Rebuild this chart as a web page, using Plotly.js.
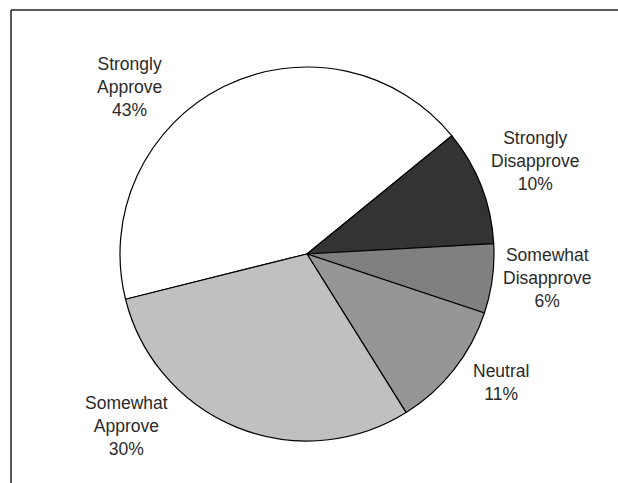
<!DOCTYPE html>
<html>
<head>
<meta charset="utf-8">
<script src="https://cdn.plot.ly/plotly-3.0.1.min.js"></script>
<style>html,body{margin:0;padding:0;background:#fff;}#chart{width:618px;height:483px;}</style>
</head>
<body>
<div id="chart"></div>
<script>
// Data
const categories = ['Strongly Approve', 'Strongly Disapprove', 'Somewhat Disapprove', 'Neutral', 'Somewhat Approve'];
const values = [43, 10, 6, 11, 30];

// Styles / positions (kept separate from data)
const sliceColors = ['#ffffff', '#333333', '#808080', '#969696', '#c0c0c0'];
const labelPos = [[129, 87], [535, 161], [547, 278], [501, 382], [126, 426]]; // pixel centres

const W = 618, H = 483;
const cx = 307, cy = 254, r = 187;

const annotations = categories.map((c, i) => ({
  x: labelPos[i][0] / W,
  y: 1 - labelPos[i][1] / H,
  xref: 'paper', yref: 'paper',
  xanchor: 'center', yanchor: 'middle',
  showarrow: false,
  align: 'center',
  text: c.replace(' ', '<br>') + '<br>' + values[i] + '%',
  font: {family: 'Liberation Sans, Arial, sans-serif', size: 17.5, color: '#2a2a2a'}
}));

const trace = {
  type: 'pie',
  labels: categories,
  values: values,
  sort: false,
  direction: 'clockwise',
  rotation: 256,
  textinfo: 'none',
  hoverinfo: 'none',
  marker: {colors: sliceColors, line: {color: '#000000', width: 1.2}},
  domain: {x: [(cx - r) / W, (cx + r) / W], y: [(H - cy - r) / H, (H - cy + r) / H]},
  showlegend: false
};

const layout = {
  width: W, height: H,
  margin: {l: 0, r: 0, t: 0, b: 0},
  paper_bgcolor: '#ffffff',
  plot_bgcolor: '#ffffff',
  showlegend: false,
  annotations: annotations,
  shapes: [
    {type: 'line', xref: 'paper', yref: 'paper', x0: 11 / W, x1: 1, y0: 1 - 10 / H, y1: 1 - 10 / H, line: {color: '#222222', width: 1.5}},
    {type: 'line', xref: 'paper', yref: 'paper', x0: 11 / W, x1: 11 / W, y0: 1 - 10 / H, y1: 0, line: {color: '#222222', width: 1.5}}
  ]
};

Plotly.newPlot('chart', [trace], layout, {staticPlot: true, displayModeBar: false});
</script>
</body>
</html>
